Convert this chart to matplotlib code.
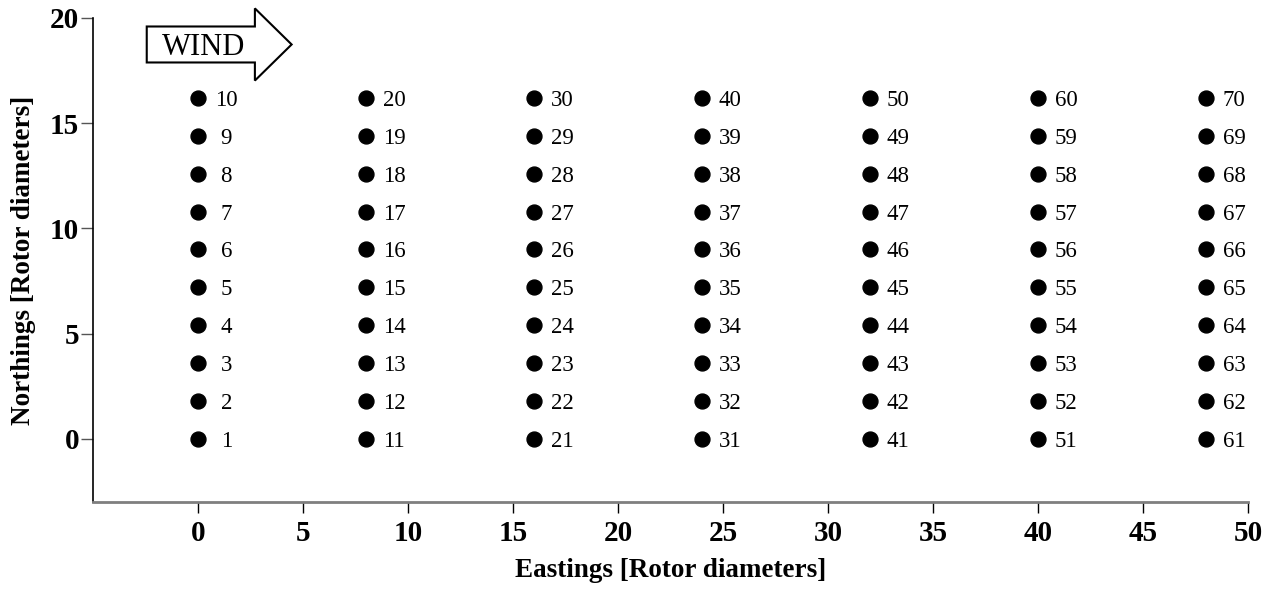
import numpy as np
import matplotlib.pyplot as plt
from matplotlib.patches import FancyArrow

plt.rcParams['font.family'] = ['Liberation Serif', 'DejaVu Serif']

# Turbine layout (rotor diameters): 7 columns x 10 rows
col_x = [0, 8, 16, 24, 32, 40, 48]
row_y = [0, 1.8, 3.6, 5.4, 7.2, 9.0, 10.8, 12.6, 14.4, 16.2]
x_ticks = [0, 5, 10, 15, 20, 25, 30, 35, 40, 45, 50]
y_ticks = [0, 5, 10, 15, 20]

turb_x = np.repeat(col_x, len(row_y))
turb_y = np.tile(row_y, len(col_x))
turb_id = np.arange(1, len(turb_x) + 1)

fig = plt.figure(figsize=(12.72, 5.93), dpi=100)
ax = fig.add_axes([0.0731, 0.1535, 0.9080, 0.8162])

ax.scatter(turb_x, turb_y, s=115, color='black', zorder=3)
for x, y, n in zip(turb_x, turb_y, turb_id):
    ax.text(x + 1.35, y, str(n), ha='center', va='center_baseline', fontsize=16.5)

ax.set_xlim(-5, 50)
ax.set_ylim(-3, 20)
ax.set_xticks(x_ticks)
ax.set_yticks(y_ticks)
for lab in ax.get_xticklabels() + ax.get_yticklabels():
    lab.set_fontweight('bold')
    lab.set_fontsize(21)

ax.spines['top'].set_visible(False)
ax.spines['right'].set_visible(False)
ax.spines['bottom'].set_color('#7f7f7f')
ax.spines['bottom'].set_linewidth(2)
ax.spines['left'].set_color('black')
ax.spines['left'].set_linewidth(1.2)
ax.tick_params(axis='x', length=8, width=1, color='black', pad=5)
ax.tick_params(axis='y', length=9, width=1, color='#555555', pad=1)

ax.set_xlabel('Eastings [Rotor diameters]', fontsize=19.5, fontweight='bold', labelpad=8)
ax.set_ylabel('Northings [Rotor diameters]', fontsize=19.5, fontweight='bold', labelpad=10)

# wind direction arrow
arrow = FancyArrow(-2.44, 18.74, 6.9, 0, width=1.71, head_width=3.43,
                   head_length=1.75, length_includes_head=True,
                   facecolor='white', edgecolor='black', linewidth=1.5,
                   clip_on=False, zorder=4)
ax.add_patch(arrow)
ax.text(0.27, 18.74, 'WIND', ha='center', va='center_baseline', fontsize=22, zorder=5)

fig.savefig('out.png', dpi=100)
